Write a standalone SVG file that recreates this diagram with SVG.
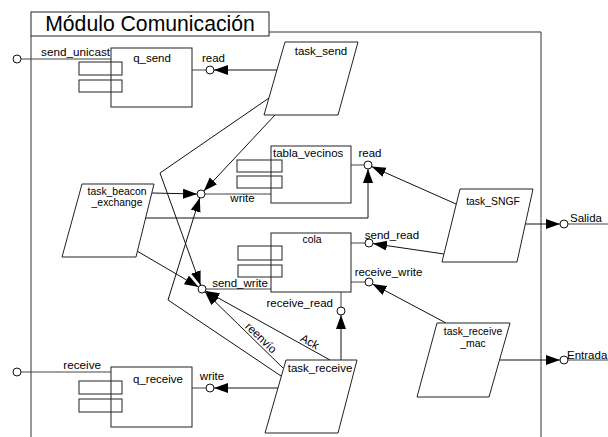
<svg xmlns="http://www.w3.org/2000/svg" width="608" height="437" viewBox="0 0 608 437">
<defs>
<style>
text{font-family:"Liberation Sans",Arial,sans-serif;font-size:11.5px;fill:#000}
.s{font-size:10.4px}
.m{text-anchor:middle}
.e{text-anchor:end}
.box{fill:#fff;stroke:#222;stroke-width:1}
.sub{fill:none;stroke:#222;stroke-width:1}
.ln{fill:none;stroke:#111;stroke-width:1}
.pl{fill:none;stroke:#444;stroke-width:1}
.ar{fill:none;stroke:#111;stroke-width:1;marker-end:url(#ah)}
.port{fill:#fff;stroke:#111;stroke-width:1}
.frame{fill:none;stroke:#333;stroke-width:1}
</style>
<marker id="ah" markerUnits="userSpaceOnUse" markerWidth="15" markerHeight="11" refX="14" refY="5" orient="auto">
<path d="M0,0 L14,5 L0,10 z" fill="#000"/>
</marker>
</defs>

<g id="frame">
<path class="frame" d="M269,32 H541 V437 M31,437 V36"/>
<rect class="box" x="31" y="12" width="238" height="24"/>
<text x="150" y="31" class="m" style="font-size:21.2px">Módulo Comunicación</text>
</g>

<g id="connectors">
<!-- external ports -->
<line class="pl" x1="21" y1="59" x2="111" y2="59"/>
<line class="pl" x1="21" y1="372" x2="111" y2="372"/>
<!-- box to port lines -->
<line class="pl" x1="192" y1="70" x2="206" y2="70"/>
<line class="pl" x1="205" y1="194" x2="271" y2="194"/>
<line class="pl" x1="351" y1="165" x2="364" y2="165"/>
<line class="pl" x1="206" y1="289" x2="271" y2="289"/>
<line class="pl" x1="351" y1="243" x2="365" y2="243"/>
<line class="pl" x1="351" y1="282" x2="365" y2="282"/>
<line class="pl" x1="341" y1="292" x2="341" y2="307"/>
<line class="pl" x1="192" y1="388" x2="206" y2="388"/>
<line class="pl" x1="568" y1="224" x2="608" y2="224"/>
<line class="pl" x1="568" y1="360" x2="608" y2="360"/>
<!-- arrows -->
<line class="ar" x1="277" y1="70" x2="214" y2="70"/>
<line class="ar" x1="275" y1="115" x2="203.8" y2="191.1"/>
<polyline class="ar" points="269,98 160,173 200.6,285.2"/>
<line class="ar" x1="152" y1="193" x2="197" y2="194"/>
<polyline class="ar" points="281,376 168,300 199.8,197.8"/>
<line class="ar" x1="137" y1="251" x2="198.5" y2="287"/>
<line class="ar" x1="330" y1="360" x2="205.5" y2="290.9"/>
<line class="ar" x1="283" y1="368" x2="204.9" y2="291.8"/>
<line class="ar" x1="341" y1="360" x2="341" y2="315"/>
<line class="ar" x1="278" y1="388" x2="214" y2="388"/>
<line class="ar" x1="456" y1="204" x2="371.7" y2="166.6"/>
<polyline class="ar" points="144,218 368,218 368,169"/>
<line class="ar" x1="444" y1="254" x2="373" y2="243.6"/>
<line class="ar" x1="446" y1="323" x2="372.5" y2="283.9"/>
<line class="ar" x1="525" y1="224" x2="560" y2="224"/>
<line class="ar" x1="500" y1="360" x2="560" y2="360"/>
<!-- labels -->
<text x="110" y="56" class="e" style="font-size:11.7px">send_unicast</text>
<text x="101" y="369" class="e" style="font-size:11.7px">receive</text>
<text x="213.5" y="62" class="m">read</text>
<text x="370" y="157" class="m">read</text>
<text x="242.5" y="202" class="m">write</text>
<text x="240" y="287" class="m">send_write</text>
<text x="333" y="307" class="e">receive_read</text>
<text x="392" y="239" class="m">send_read</text>
<text x="388.5" y="276" class="m">receive_write</text>
<text x="212" y="380" class="m">write</text>
<text x="570" y="222">Salida</text>
<text x="567" y="359">Entrada</text>
<text transform="translate(257,342) rotate(44)" y="-2" class="m">reenvío</text>
<text transform="translate(307,347) rotate(29)" y="-2" class="m">Ack</text>
</g>

<g id="port_send_unicast"><circle class="port" cx="17" cy="59" r="4"/></g>
<g id="port_receive"><circle class="port" cx="17" cy="372" r="4"/></g>
<g id="port_qsend_read"><circle class="port" cx="210" cy="70" r="4"/></g>
<g id="port_tabla_write"><circle class="port" cx="201" cy="194" r="4"/></g>
<g id="port_tabla_read"><circle class="port" cx="368" cy="165" r="4"/></g>
<g id="port_send_write"><circle class="port" cx="202" cy="289" r="4"/></g>
<g id="port_send_read"><circle class="port" cx="369" cy="243" r="4"/></g>
<g id="port_receive_write"><circle class="port" cx="369" cy="282" r="4"/></g>
<g id="port_receive_read"><circle class="port" cx="341" cy="311" r="4"/></g>
<g id="port_qreceive_write"><circle class="port" cx="210" cy="388" r="4"/></g>
<g id="port_salida"><circle class="port" cx="564" cy="224" r="4"/></g>
<g id="port_entrada"><circle class="port" cx="564" cy="360" r="4"/></g>

<g id="q_send">
<rect class="box" x="111" y="48" width="81" height="59"/>
<rect class="sub" x="79" y="62" width="43" height="13"/>
<rect class="sub" x="79" y="80" width="43" height="12"/>
<text x="152" y="62" class="m">q_send</text>
</g>

<g id="tabla_vecinos">
<rect class="box" x="271" y="146" width="80" height="57"/>
<rect class="sub" x="237" y="160" width="45" height="12"/>
<rect class="sub" x="237" y="176" width="45" height="12"/>
<text x="273" y="157">tabla_vecinos</text>
</g>

<g id="cola">
<rect class="box" x="271" y="233" width="80" height="59"/>
<rect class="sub" x="238" y="246" width="44" height="14"/>
<rect class="sub" x="238" y="265" width="44" height="12"/>
<text x="312" y="243" class="m s">cola</text>
</g>

<g id="q_receive">
<rect class="box" x="111" y="367" width="81" height="60"/>
<rect class="sub" x="79" y="381" width="43" height="13"/>
<rect class="sub" x="79" y="399" width="43" height="13"/>
<text x="158" y="383" class="m">q_receive</text>
</g>

<g id="task_send">
<polygon class="box" points="285,42 358,42 338,115 264,115"/>
<text x="321" y="55" class="m">task_send</text>
</g>

<g id="task_beacon_exchange">
<polygon class="box" points="82,184 154,184 136,257 62,257"/>
<text x="117" y="195" class="m s">task_beacon</text>
<text x="117" y="206" class="m s">_exchange</text>
</g>

<g id="task_SNGF">
<polygon class="box" points="460,189 533,189 517,262 442,262"/>
<text x="493" y="205" class="m s">task_SNGF</text>
</g>

<g id="task_receive_mac">
<polygon class="box" points="437,323 510,323 489,397 417,397"/>
<text x="473" y="335" class="m s">task_receive</text>
<text x="473" y="347" class="m s">_mac</text>
</g>

<g id="task_receive">
<polygon class="box" points="286,360 357,360 338,433 265,433"/>
<text x="320" y="372" class="m">task_receive</text>
</g>
</svg>
